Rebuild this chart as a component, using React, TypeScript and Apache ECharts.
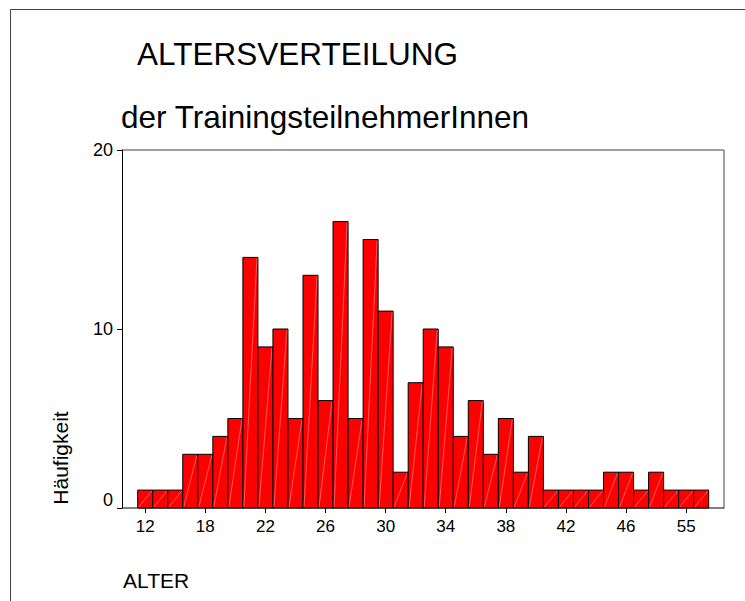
import React, { useEffect, useRef } from "react";
import * as echarts from "echarts";

const ages: string[] = [
  "12", "14", "16", "17", "18", "19", "20", "21", "22", "23", "24", "25", "26",
  "27", "28", "29", "30", "31", "32", "33", "34", "35", "36", "37", "38", "39",
  "40", "41", "42", "43", "44", "45", "46", "47", "49", "52", "55", "58",
];
const counts: number[] = [
  1, 1, 1, 3, 3, 4, 5, 14, 9, 10, 5, 13, 6, 16, 5, 15, 11, 2, 7, 10, 9, 4, 6,
  3, 5, 2, 4, 1, 1, 1, 1, 2, 2, 1, 2, 1, 1, 1,
];
const yTicks = { min: 0, max: 20, interval: 10 };
const titleText = "ALTERSVERTEILUNG";
const subtitleText = "der TrainingsteilnehmerInnen";
const xName = "ALTER";
const yName = "Häufigkeit";

const FONT = "'Liberation Sans', Arial, sans-serif";

export default function App() {
  const ref = useRef<HTMLDivElement>(null);
  useEffect(() => {
    if (!ref.current) return;
    const chart = echarts.init(ref.current, null, { renderer: "svg" });
    const gridLeft = 137.7;
    const gridRight = 745 - 708.7;
    const gridTop = 150;
    const gridBottom = 601 - 508;
    chart.setOption({
      animation: false,
      backgroundColor: "#ffffff",
      textStyle: { fontFamily: FONT },
      grid: { left: gridLeft, right: gridRight, top: gridTop, bottom: gridBottom },
      xAxis: {
        type: "category",
        data: ages,
        boundaryGap: true,
        axisLine: { show: false },
        axisTick: {
          show: true,
          alignWithLabel: true,
          interval: 3,
          length: 5,
          lineStyle: { color: "#000", width: 1 },
        },
        axisLabel: {
          interval: 3,
          fontSize: 17,
          color: "#000",
          margin: 10,
          fontFamily: FONT,
        },
        splitLine: { show: false },
      },
      yAxis: {
        type: "value",
        min: yTicks.min,
        max: yTicks.max,
        interval: yTicks.interval,
        offset: gridLeft - 122,
        axisLine: { show: true, lineStyle: { color: "#000", width: 1 } },
        axisTick: { show: true, length: 5, lineStyle: { color: "#000", width: 1 } },
        axisLabel: {
          fontSize: 18,
          color: "#000",
          margin: 9,
          fontFamily: FONT,
          formatter: (v: number) => (v === 0 ? "{z|0}" : String(v)),
          rich: { z: { fontSize: 18, fontFamily: FONT, color: "#000", padding: [0, 0, 16, 0] } },
        },
        splitLine: { show: false },
      },
      graphic: [
        {
          type: "rect",
          shape: { x: 10.5, y: 9.5, width: 1000, height: 1000 },
          style: { fill: "none", stroke: "#444", lineWidth: 1 },
          silent: true,
        },
        {
          type: "line",
          shape: { x1: 122, y1: 150, x2: 724, y2: 150 },
          style: { stroke: "#808080", lineWidth: 1.5 },
          silent: true,
        },
        {
          type: "line",
          shape: { x1: 724, y1: 150, x2: 724, y2: 508.5 },
          style: { stroke: "#808080", lineWidth: 1.5 },
          silent: true,
        },
        {
          type: "line",
          shape: { x1: 122, y1: 508, x2: 724, y2: 508 },
          style: { stroke: "#000", lineWidth: 1 },
          silent: true,
        },
        {
          type: "text",
          x: 137,
          y: 54,
          style: {
            text: titleText,
            fontSize: 31.5,
            fontFamily: FONT,
            fill: "#000",
            textAlign: "left",
            textVerticalAlign: "middle",
          },
        },
        {
          type: "text",
          x: 121,
          y: 117,
          style: {
            text: subtitleText,
            fontSize: 31.5,
            fontFamily: FONT,
            fill: "#000",
            textAlign: "left",
            textVerticalAlign: "middle",
          },
        },
        {
          type: "text",
          x: 123,
          y: 580,
          style: {
            text: xName,
            fontSize: 21,
            fontFamily: FONT,
            fill: "#000",
            textAlign: "left",
            textVerticalAlign: "middle",
          },
        },
        {
          type: "text",
          x: 60,
          y: 458,
          rotation: Math.PI / 2,
          style: {
            text: yName,
            fontSize: 21,
            fontFamily: FONT,
            fill: "#000",
            textAlign: "center",
            textVerticalAlign: "middle",
          },
        },
      ],
      series: [
        {
          type: "custom",
          data: counts.map((v, i) => [i, v]),
          encode: { x: 0, y: 1 },
          renderItem: (params: any, api: any) => {
            const idx = api.value(0);
            const v = api.value(1);
            const top = api.coord([idx, v]);
            const base = api.coord([idx, 0]);
            const w = api.size([1, 0])[0];
            const x0 = top[0] - w / 2;
            return {
              type: "group",
              children: [
                {
                  type: "rect",
                  shape: { x: x0, y: top[1], width: w, height: base[1] - top[1] },
                  style: { fill: "#ff0000", stroke: "#000", lineWidth: 1 },
                },
                {
                  type: "line",
                  shape: { x1: x0 + 1, y1: base[1] - 1, x2: x0 + w - 1, y2: top[1] + 1 },
                  style: { stroke: "rgba(255,255,255,0.35)", lineWidth: 1 },
                },
              ],
            };
          },
        },
      ],
    });
    return () => chart.dispose();
  }, []);
  return (
    <div
      ref={ref}
      style={{ position: "fixed", left: 0, top: 0, width: 745, height: 601 }}
    />
  );
}
